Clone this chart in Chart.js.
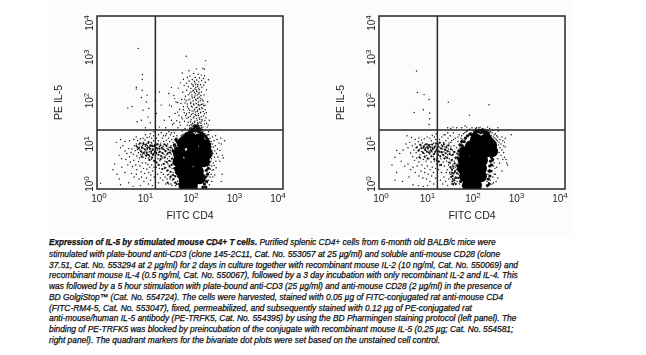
<!DOCTYPE html>
<html>
<head>
<meta charset="utf-8">
<script src="https://cdn.jsdelivr.net/npm/chart.js@4"></script>
<style>
  html, body { margin: 0; padding: 0; background: #fff; }
  #page { position: relative; width: 646px; height: 355px; overflow: hidden; font-family: "Liberation Sans", Arial, sans-serif; }
  #plate { position: absolute; left: 49px; top: 0; width: 523px; height: 237px; background: #fcfcfc; }
  canvas { position: absolute; top: 0; }
  #left { left: 49px; }
  #right { left: 331px; }
  #caption { position: absolute; left: 49px; top: 237px; font-size: 8.4px; line-height: 10.77px; font-style: italic; color: #111; white-space: nowrap; -webkit-text-stroke: 0.25px #111; }
  #caption b { font-size: 8.2px; }
</style>
</head>
<body>
<div id="page">
  <div id="plate"></div>
  <canvas id="left" width="240" height="236"></canvas>
  <canvas id="right" width="240" height="236"></canvas>
  <div id="caption"><b>Expression of IL-5 by stimulated mouse CD4+ T cells.</b> Purified splenic CD4+ cells from 6-month old BALB/c mice were<br>
stimulated with plate-bound anti-CD3 (clone 145-2C11, Cat. No. 553057 at 25 µg/ml) and soluble anti-mouse CD28 (clone<br>
37.51, Cat. No. 553294 at 2 µg/ml) for 2 days in culture together with recombinant mouse IL-2 (10 ng/ml, Cat. No. 550069) and<br>
recombinant mouse IL-4 (0.5 ng/ml, Cat. No. 550067), followed by a 3 day incubation with only recombinant IL-2 and IL-4. This<br>
was followed by a 5 hour stimulation with plate-bound anti-CD3 (25 µg/ml) and anti-mouse CD28 (2 µg/ml) in the presence of<br>
BD GolgiStop™ (Cat. No. 554724). The cells were harvested, stained with 0.05 µg of FITC-conjugated rat anti-mouse CD4<br>
(FITC-RM4-5, Cat. No. 553047), fixed, permeabilized, and subsequently stained with 0.12 µg of PE-conjugated rat<br>
anti-mouse/human IL-5 antibody (PE-TRFK5, Cat. No. 554395) by using the BD Pharmingen staining protocol (left panel). The<br>
binding of PE-TRFK5 was blocked by preincubation of the conjugate with recombinant mouse IL-5 (0.25 µg; Cat. No. 554581;<br>
right panel). The quadrant markers for the bivariate dot plots were set based on the unstained cell control.</div>
</div>
<script>
// Axis ticks and titles
const tickValues = [1, 10, 100, 1000, 10000];
const tickExponents = ['0', '1', '2', '3', '4'];
const xTitle = 'FITC CD4';
const yTitle = 'PE IL-5';

// Quadrant markers (FITC CD4, PE IL-5)
const gateX = 18;
const gateY = 23;

const leftCoreX = [99,154,207,70,114,60,99,162,229,57,89,147,197,63,99,147,77,120,77,109,162];
const leftCoreY = [15.7,14,10.3,11.4,9.2,7.1,6,6.7,6.7,4.4,3.9,4.15,4.4,2.7,2.44,2.57,1.59,1.59,1.15,1.15,1.77];
const rightCoreX = [122,200,95,156,257,71,116,190,269,67,105,164,64,100,156,71,110,156,82,122];
const rightCoreY = [14,14,9.7,9.7,10.3,7.1,6.7,7.1,7.5,4.6,4.4,4.6,3,2.86,3,1.97,1.87,1.97,1.22,1.22];

// Left panel events
const leftTail = [[83,1170],[218,930],[190,620],[137,600],[205,590],[95,540],[68,480],[120,470],[150,450],[175,430],[205,415],[100,410],[88,385],[130,380],[160,370],[195,360],[250,335],[72,345],[112,340],[140,330],[178,325],[96,315],[124,310],[154,300],[215,295],[62,285],[84,280],[108,270],[133,265],[168,258],[198,250],[75,245],[118,240],[146,238],[92,232],[180,225],[56,215],[105,212],[128,205],[160,200],[225,195],[85,192],[115,186],[140,180],[176,175],[70,172],[98,165],[130,160],[155,158],[200,150],[45,145],[80,140],[110,135],[125,130],[148,128],[172,122],[66,118],[92,115],[136,112],[192,108],[240,104],[54,100],[78,98],[104,96],[120,92],[150,90],[165,88],[210,85],[40,82],[88,80],[112,78],[135,76],[158,73],[185,72],[60,70],[72,68],[98,66],[122,64],[142,62],[170,60],[225,58],[48,56],[84,55],[108,53],[130,52],[152,50],[195,49],[36,47],[66,46],[92,45],[118,44],[138,43],[162,41],[182,40],[260,39],[52,38],[76,37],[102,36],[125,35],[146,34],[172,33],[205,32],[42,31],[62,30],[88,30],[110,29],[132,28],[155,28],[190,27],[235,27],[30,26],[55,26],[78,25],[98,25],[122,24],[142,24],[168,24],[215,23],[280,23],[45,23],[68,22],[112,22],[150,21],[190,21],[250,21],[90,20],[130,20],[170,20],[210,19],[100,18],[140,18],[120,17],[160,17],[190,17],[240,18],[115,32],[128,31],[140,30],[150,30],[165,29],[178,29],[125,27],[140,27],[160,26],[175,26],[135,25],[150,25],[185,24],[130,23],[160,23],[175,22],[125,22],[140,22],[110,26],[105,31],[101,26],[117,28],[133,30],[149,33],[163,35],[179,37],[97,29],[113,33],[127,37],[143,39],[158,44],[174,47],[91,35],[106,40],[122,47],[136,50],[151,55],[168,58],[86,43],[101,48],[116,56],[131,60],[146,66],[162,70],[81,50],[96,58],[111,64],[126,70],[141,78],[156,84],[177,90],[93,72],[107,82],[121,88],[136,95],[151,103],[166,110],[88,92],[103,102],[117,108],[132,118],[147,124],[161,135],[100,120],[114,128],[128,142],[143,150],[157,170],[110,150],[124,172],[139,195],[152,215],[118,190],[133,225],[147,260],[128,285],[115,255],[105,175],[171,145],[186,115],[198,85],[212,68],[190,92],[178,76],[205,55],[192,62],[220,44],[208,38],[228,33],[245,30],[75,58],[68,42],[60,35],[58,50],[72,80],[83,110],[92,150],[77,120],[64,95]];
const leftUpper = [[7.7,1780],[9.4,445],[9.4,340],[7,226],[7,204],[9.4,192],[12,148],[9,130],[11.5,103],[4.6,75],[5.7,81],[9.7,66],[13,73],[12.4,46],[7.3,36],[9,39],[14,34],[11,26],[19,56],[18,430],[18,170],[18,110],[22,176],[40,224],[35,162],[47,123],[24,87],[36,87],[28,39],[40,39],[45,33],[22,27],[54,60],[50,103]];
const leftLobe = [[6.4,10],[7,11],[7.5,9],[8,10.5],[8.4,8],[8.8,11.5],[9,9.5],[9.3,7],[9.6,10.2],[10,12],[10.2,8.6],[10.6,6.5],[11,9.8],[11.3,7.6],[11.6,11],[12,8.2],[12.3,6.2],[12.6,9.4],[13,12.5],[13.2,7.2],[13.6,5.6],[14,10.4],[14.3,8.7],[14.7,6.6],[15,11.6],[15.3,7.8],[15.7,9.6],[16,5.9],[16.4,13],[16.7,8.4],[17,6.9],[17.3,10.6],[5.6,8.4],[6,6.4],[6.6,7.7],[7.2,5.8],[7.8,6.9],[8.2,5.2],[8.7,6.2],[9.2,8.7],[9.8,5.4],[10.4,7.2],[11,5.1],[11.8,6.4],[12.8,5.2],[13.8,7.5],[14.8,4.9],[15.6,6.2],[16.6,4.6],[7.4,8.2],[8.1,9.2],[9.5,6.3],[10.8,10.6],[12.2,10],[13.4,9],[14.5,12],[5,5.6],[5.4,7],[4.8,8.6],[4.4,6.6],[4,7.6],[3.6,10],[3.2,9],[3,6],[3.4,5],[4.2,4.8],[4.6,3.6],[5.2,4.2],[5.8,3.3],[6.2,4.6],[6.8,3.6],[7.2,2.8],[7.8,4.3],[8.4,3.4],[8.9,2.5],[9.4,4],[10,3],[10.6,2.3],[11.2,4],[11.8,2.9],[12.4,3.7],[13,2.4],[13.6,3.2],[14.4,2.1],[15,3.6],[15.8,2.6],[16.8,3.2],[5.5,2.3],[6.3,1.9],[7,2.2],[8,1.7],[9.1,1.9],[10.2,1.5],[11.5,1.8],[12.8,1.3],[14.2,1.6],[15.5,1.2],[17,1.9],[4,2.4],[3.4,3.2],[2.4,3.8],[2.2,2.8],[2.7,2.2],[3,1.7],[1.2,1.35],[3.2,1.25],[4.8,1.4],[6,1.15],[8.6,1.2],[6.2,14],[7.5,13.2],[8.6,14.5],[9.8,15],[10.8,13.6],[12,15.5],[13.5,16],[15,15],[16.5,17],[7,16],[5,13],[4,12.5],[3.2,14],[2.6,12],[11,18],[14,19],[16.8,21]];
const leftBetween = [[18.5,9],[19,6.5],[19.5,11],[20,8],[20.5,5],[21,13],[21.5,7],[22,9.5],[22.5,4.5],[23,6],[23.5,11.5],[24,8.5],[24.5,3.6],[25,7],[25.5,15],[26,5.2],[26.5,9.6],[27,12.6],[27.5,6.4],[28,3],[28.5,8],[29,4.4],[29.5,10.6],[30,17],[30.5,6],[31,13.5],[31.5,2.6],[32,8.8],[32.5,5],[33,11],[33.5,3.8],[34,7],[34.5,15],[35,2.2],[35.5,9.2],[36,5.6],[36.5,12.5],[37,3.2],[37.5,7.8],[38,18],[38.5,4.4],[39,10],[39.5,2],[40,6.4],[40.5,14],[41,3],[41.5,8.6],[42,1.6],[42.5,5.2],[43,12],[43.5,2.4],[44,7.2],[44.5,16.5],[45,3.8],[45.5,9.6],[46,1.4],[46.5,5.8],[47,2.8],[47.5,11],[48,1.9],[48.5,4.2],[49,1.2],[49.5,7.4],[50,3.2],[51,13.5],[52,2.2],[53,5.2],[54,1.5],[54.5,9],[19,3.2],[20,2.2],[21,1.4],[22,3],[23,1.8],[24,2.4],[26,1.6],[27,2.2],[29,1.9],[30,1.3],[32,1.7],[33,2.1],[35,1.3],[37,1.7],[39,1.3],[41,1.2],[19,15],[21,18],[24,20],[27,17],[31,19],[35,21],[40,20],[46,20],[52,17],[55,12],[52,8],[50,5],[50,10],[48,7],[47,3.8],[55,2.6],[60,1.8],[58,1.3],[62,15],[65,17],[70,18],[58,3.2],[55,5.5],[53,15],[75,19],[82,20],[62,1.2],[55,7],[48,13]];
const leftFringe = [[210,16],[220,13],[228,17],[235,11],[240,14.5],[245,9],[250,12],[255,18],[260,7.5],[265,10.5],[270,15],[275,6.2],[280,9],[285,12.5],[290,5],[295,7.8],[300,11],[305,16],[310,6.6],[315,4],[320,9.4],[330,13],[335,5.4],[340,7.6],[350,10],[355,17],[360,4.4],[370,6.6],[380,14],[390,8.4],[400,5.5],[420,11.5],[440,7.8],[460,15],[556,13],[470,11],[520,5.2],[230,5],[240,3.6],[245,6],[250,3],[255,4.4],[260,2.4],[265,3.6],[270,1.9],[275,2.9],[280,4.4],[285,2.2],[290,3.4],[295,1.5],[300,2.7],[240,2],[250,1.6],[260,1.25],[225,1.9],[230,2.8],[235,1.4],[310,1.9],[320,2.8],[340,2.1],[330,3.5],[365,3.1],[470,1.5],[490,2.2],[440,4.4],[500,6]];
const leftClump = [[7.1,9.7],[7.9,8.7],[8.3,11.2],[8.9,7.4],[9.4,9.1],[9.9,11.1],[10.1,6.8],[10.7,8.2],[11.2,10.5],[11.7,6.9],[12.1,8.9],[12.7,11.7],[13.1,6.1],[13.7,8.5],[14.1,9.9],[14.6,7.2],[15.2,10.1],[15.9,8.1],[16.3,6.4],[16.9,9.7],[17.6,7.4],[18.2,10.4],[18.8,6.9],[19.3,8.7],[20.2,10.8],[20.9,6.2],[21.7,8.6],[22.4,7.3],[23.2,10.2],[24.2,5.7],[24.9,9],[25.7,6.7],[26.8,8.3],[27.9,10.8],[28.7,5.4],[29.9,7.5],[31.2,9.9],[32.7,6.5],[34.2,8.2],[35.7,4.5],[37.2,6.9],[38.8,9.1],[40.7,5],[42.2,7.8],[43.7,3.9],[45.2,6.6],[46.8,10.3],[48.3,3.1],[49.7,8.2],[51.5,5.9],[9.2,5.6],[11.4,5.9],[13.4,4.7],[15.2,5.3],[17.2,4.4],[19.2,4.1],[21.2,3.6],[23.3,4.9],[25.3,2.9],[27.2,3.8],[29.2,3.1],[31.7,4.2],[33.2,2.7],[36.2,3.4],[38.2,2.5],[40.2,3.6],[43.2,2.1],[45.4,3],[47.8,2],[50.5,2.4],[52.5,3.6],[54.2,2],[44,1.7],[48.5,1.4],[52,1.3],[38,1.9],[33,1.4]];
const leftEdge = [[50,14],[53,12.5],[46,10.5],[49,9],[44,7.5],[47,6],[51,5],[48,4.2],[52,3.4],[55,2.5],[58,1.9],[60,1.3],[64,1.1],[57,4.8],[56,8],[58,11],[62,13.5],[68,15.5],[75,17],[84,18.5],[95,20],[106,21],[118,22.5],[130,23],[142,22],[155,21],[168,20],[180,19.5],[195,18],[210,17],[225,15.5],[240,14],[252,12.5],[262,11],[268,9.5],[258,8.5],[272,7.5],[250,6.5],[264,5.5],[245,5],[255,4.2],[235,3.6],[248,3],[225,2.7],[238,2.2],[216,1.9],[228,1.5],[205,1.3],[218,1.1],[190,1.1],[120,24],[135,26],[150,25],[165,23.5],[110,24],[100,22],[125,28],[145,29]];

// Right panel events
const rightUpper = [[6.4,535],[6.7,170],[9.3,152],[12,117],[5.7,59],[9,68],[12.3,57],[12.3,42],[12,31],[31,102],[232,89],[88,51],[71,29],[77,27],[35,25],[47,26],[60,26],[100,26],[125,26],[150,27],[215,27],[360,26],[700,18],[240,25],[30,26],[39,27]];
const rightLobe = [[5.2,10],[5.6,8],[6,11],[6.3,7],[6.6,9.4],[7,12.4],[7.3,8.2],[7.6,6.2],[8,10],[8.3,7.4],[8.6,11.6],[9,8.8],[9.3,6.6],[9.6,10.4],[10,7.8],[10.3,9.2],[10.6,6],[11,11],[11.3,8.4],[11.6,7],[12,9.6],[12.3,6.4],[12.6,10.6],[13,8],[13.4,13],[13.8,7.2],[14.2,9.2],[14.6,5.6],[15,11.4],[15.4,8.6],[15.8,6.8],[16.2,10],[16.6,14],[17,7.6],[17.4,5.2],[17.8,9],[9,9.8],[10,8.6],[11,9.6],[12,7.6],[13,9.4],[14,8.2],[4.6,12],[4.2,9],[3.8,11],[3.3,8],[4.8,6.8],[5.3,5.6],[5.8,4.6],[6.5,5.2],[7.2,4.2],[7.8,5.2],[8.4,3.6],[9,4.8],[9.7,3],[10.4,4.4],[11,3.4],[11.8,5],[12.5,2.8],[13.2,4.2],[14,3.2],[14.8,2.4],[15.6,4.4],[16.5,3],[17.4,3.8],[2.4,7.8],[2.8,6.6],[2.2,5.4],[1.9,3.6],[3,4.4],[3.6,3.4],[4.2,3.8],[4.8,2.8],[5.4,3.2],[6,2.4],[6.6,3.4],[7.2,2],[8,2.6],[8.8,1.8],[9.6,2.4],[10.5,1.7],[11.4,2.2],[12.5,1.5],[13.6,2],[15,1.3],[16.4,1.8],[2.4,2.4],[2.2,1.6],[3.2,1.5],[4.4,1.9],[5.4,1.25],[7,1.2],[9,1.15],[11,1.2],[6,14],[7.2,15.2],[8.2,13.6],[9.4,14.5],[10.8,16],[12.5,15],[14,17.5],[15.5,16],[17,19],[5,15.5],[4,17]];
const rightBetween = [[18.6,8],[19,11],[19.5,6],[20,14],[20.5,9],[21,7.2],[21.5,5],[22,10.4],[22.5,16],[23,6.4],[23.5,8.4],[24,4.2],[24.5,12],[25,7.2],[25.5,3.4],[26,9.4],[26.5,18],[27,5.6],[27.5,13],[28,7.8],[28.5,4.4],[29,10.2],[29.5,2.8],[30,6.2],[30.5,15],[31,8.4],[31.5,3.6],[32,11.6],[32.5,5],[33,2.4],[33.5,7.2],[34,17],[34.5,4],[35,9.4],[35.5,3],[36,6],[36.5,13],[37,2.2],[37.5,4.8],[38,8],[38.5,3.6],[39,1.7],[39.5,6.4],[40,20],[40.5,3],[41,10],[41.5,4.4],[42,1.4],[42.5,2.4],[43,7.2],[43.5,3.2],[44,15],[44.5,1.9],[45,5],[46,2.8],[47,9],[48,1.5],[49,3.8],[50,12.5],[51,2.2],[52,6],[53,18],[54,1.3],[55,3],[56,8],[58,15],[60,11],[19,2.8],[20,3.6],[21,1.6],[22,2.4],[23.5,1.3],[25,1.9],[27,1.5],[28,2.4],[30,1.2],[32,1.7],[34,2.2],[36,1.3],[38,1.7],[40,1.25],[42,1.8],[60,17],[65,19],[50,16],[40,14],[35,12],[30,20],[25,18],[70,20],[75,21],[62,14],[55,10],[52,4],[50,6.6],[48,5.6],[56,1.8]];
const rightFringe = [[80,22],[90,24],[95,20],[105,23],[110,21],[120,25],[130,22],[140,26],[150,23],[160,21],[170,25],[180,22],[190,24],[200,20],[210,23],[220,19],[230,22],[240,18],[250,21],[260,17],[270,20],[280,23],[290,16],[300,18],[310,15],[320,19],[330,14],[340,17],[350,13],[360,16],[370,22],[380,12],[400,14],[420,11],[440,16],[460,13],[480,10],[500,12],[520,15],[300,10],[310,7.5],[320,12],[330,9],[340,6.5],[350,8],[360,5],[370,10.5],[380,7],[390,4],[400,9],[420,6],[440,8],[460,4.8],[480,7],[500,5.4],[520,9.4],[540,4.8],[560,4],[580,3.6],[300,4],[310,3],[300,2.2],[290,3.4],[280,4.4],[270,2.6],[260,3.6],[250,1.6],[240,2.8],[230,1.4],[220,2.2],[210,1.5],[270,1.3],[280,1.9],[290,1.4],[320,2.2],[330,1.5],[340,3.2],[360,1.8],[440,2.6]];
const rightClump = [[6.4,9.1],[7.1,7.7],[7.7,10.5],[8.2,8.8],[8.8,6.9],[9.2,9.4],[9.8,8.1],[10.2,10.8],[10.7,7.3],[11.2,8.9],[11.8,10.3],[12.2,6.9],[12.8,9.1],[13.3,7.6],[13.9,10.7],[14.4,8.4],[15.1,6.4],[15.7,9.3],[16.3,7.3],[16.9,11.2],[17.5,8.2],[18.3,6.3],[18.9,9.6],[19.6,7.3],[20.3,11.8],[20.9,5.7],[21.7,8.6],[22.4,7.1],[23.2,9.8],[24.2,6.1],[24.9,10.9],[25.7,5.1],[26.3,8.1],[27.2,6.7],[28.2,9.2],[29.2,5.3],[30.2,7.4],[31.3,10.2],[32.3,4.1],[33.2,6.4],[34.3,3.2],[35.2,8.3],[36.3,4.6],[37.3,2.8],[38.3,6.2],[39.3,3.3],[40.3,2.3],[41.2,7.2],[42.3,3.9],[43.2,2.6],[44.3,5.3],[45.3,1.8],[46.3,3.5],[47.3,2.3],[48.3,6.6],[49.3,2.9],[50.5,1.8],[51.8,4.6],[53.2,2.6],[38.6,2],[37.8,1.5],[36.8,2.4],[35.8,1.9],[39.2,1.3],[41.6,1.6],[44.8,1.3],[11.1,5.1],[13.4,5.7],[15.4,4.9],[17.6,4.6],[19.4,4.3],[21.6,3.6],[9.6,5.6],[7.4,5.4]];
const rightEdge = [[72,15],[80,17],[90,18.5],[100,18],[112,19.5],[125,20.5],[140,21],[155,20],[170,21],[185,20],[200,19],[215,18],[230,16.5],[245,15.5],[260,14.5],[275,13.5],[288,12.5],[298,11],[305,9.5],[295,8.5],[285,7.2],[302,7],[275,6.2],[262,5.4],[278,4.8],[250,4.4],[262,3.6],[240,3.4],[252,2.6],[232,2.6],[242,2],[225,1.7],[235,1.3],[215,1.2],[60,12.5],[55,10.5],[58,8.6],[52,7.6],[55,6.2],[50,5.2],[56,4.4],[50,3.4],[54,2.7],[60,2.1],[57,1.5],[65,1.2],[62,10],[68,12.5],[140,23],[160,23],[180,22.5],[205,21],[120,22],[225,19.5]];

const INK = '#262626';
const FONT = '"Liberation Sans", Arial, sans-serif';

function toPoints(pairs) {
    return pairs.map(p => ({ x: p[0], y: p[1] }));
}

// Frame round the plot area
const framePlugin = {
    id: 'frame',
    afterDatasetsDraw(chart) {
        const a = chart.chartArea;
        const ctx = chart.ctx;
        ctx.save();
        ctx.strokeStyle = INK;
        ctx.lineWidth = 1.5;
        ctx.strokeRect(a.left, a.top, a.right - a.left, a.bottom - a.top);
        ctx.restore();
    }
};

// Tick labels, a "10" with a raised exponent. The end labels sit inside the axis as in the original.
const xNudge = [2, 2, 1, -2, -5];
const yNudge = [-5, -2, -2, -2, 7];

function drawPower(ctx, exponent) {
    ctx.font = '10px ' + FONT;
    const baseWidth = ctx.measureText('10').width;
    ctx.font = '8px ' + FONT;
    const expWidth = ctx.measureText(exponent).width;
    const start = -(baseWidth + expWidth) / 2;
    ctx.font = '10px ' + FONT;
    ctx.fillText('10', start, 3.5);
    ctx.font = '8px ' + FONT;
    ctx.fillText(exponent, start + baseWidth, 0);
}

const powerTicksPlugin = {
    id: 'powerTicks',
    afterDraw(chart) {
        const ctx = chart.ctx;
        const a = chart.chartArea;
        ctx.save();
        ctx.fillStyle = INK;
        ctx.textAlign = 'left';
        ctx.textBaseline = 'alphabetic';
        tickValues.forEach((value, i) => {
            ctx.save();
            ctx.translate(chart.scales.x.getPixelForValue(value) + xNudge[i], a.bottom + 9);
            drawPower(ctx, tickExponents[i]);
            ctx.restore();

            ctx.save();
            ctx.translate(a.left - 8, chart.scales.y.getPixelForValue(value) + yNudge[i]);
            ctx.rotate(-Math.PI / 2);
            drawPower(ctx, tickExponents[i]);
            ctx.restore();
        });
        ctx.restore();
    }
};

function logAxis(title, size, titlePadding) {
    return {
        type: 'logarithmic',
        min: 1,
        max: 10000,
        grid: { display: false },
        border: { display: false },
        ticks: { display: false },
        afterBuildTicks: scale => {
            scale.ticks = tickValues.map(value => ({ value }));
        },
        afterFit: scale => {
            if (scale.isHorizontal()) {
                scale.height = size;
            } else {
                scale.width = size;
            }
        },
        title: {
            display: true,
            text: title,
            color: INK,
            padding: titlePadding,
            font: { family: FONT, size: 10.5 }
        }
    };
}

function eventDataset(pairs, radius) {
    return {
        data: toPoints(pairs),
        backgroundColor: '#0c0c0c',
        borderWidth: 0,
        pointRadius: radius
    };
}

function createPanel(canvasId, coreX, coreY, events, clump, edge) {
    const canvas = document.getElementById(canvasId);
    return new Chart(canvas, {
        type: 'scatter',
        data: {
            datasets: [
                {
                    data: coreX.map((x, i) => ({ x, y: coreY[i] })),
                    backgroundColor: '#000',
                    borderWidth: 0,
                    pointRadius: 6
                },
                eventDataset(edge, 1.6),
                eventDataset(clump, 1.1),
                eventDataset(events, 0.7),
                {
                    data: [{ x: gateX, y: 1 }, { x: gateX, y: 10000 }],
                    showLine: true,
                    borderColor: INK,
                    borderWidth: 1.5,
                    pointRadius: 0
                },
                {
                    data: [{ x: 1, y: gateY }, { x: 10000, y: gateY }],
                    showLine: true,
                    borderColor: INK,
                    borderWidth: 1.5,
                    pointRadius: 0
                }
            ]
        },
        options: {
            responsive: false,
            animation: false,
            layout: { padding: { top: 16, right: 6, bottom: 0, left: 0 } },
            plugins: {
                legend: { display: false },
                tooltip: { enabled: false }
            },
            scales: {
                x: logAxis(xTitle, 47, { top: 0, bottom: 14 }),
                y: logAxis(yTitle, 48, { top: 4, bottom: 0 })
            }
        },
        plugins: [framePlugin, powerTicksPlugin]
    });
}

createPanel('left', leftCoreX, leftCoreY, leftTail.concat(leftUpper, leftLobe, leftBetween, leftFringe), leftClump, leftEdge);
createPanel('right', rightCoreX, rightCoreY, rightUpper.concat(rightLobe, rightBetween, rightFringe), rightClump, rightEdge);
</script>
</body>
</html>
